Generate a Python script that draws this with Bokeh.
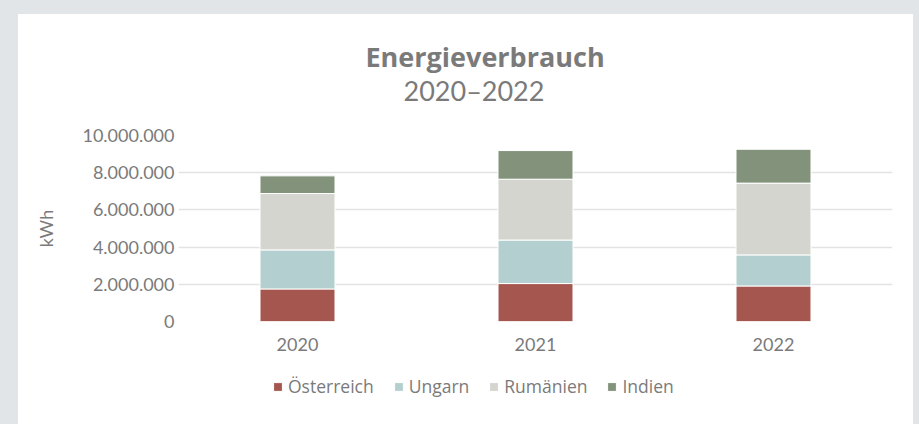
from bokeh.plotting import figure
from bokeh.models import Title, Legend, FactorRange, Range1d, FixedTicker
from bokeh.layouts import column
from bokeh.embed import file_html
from bokeh.resources import INLINE

years = ["2020", "2021", "2022"]
series = ["Österreich", "Ungarn", "Rumänien", "Indien"]
oesterreich = [1750000, 2040000, 1910000]
ungarn = [2100000, 2340000, 1670000]
rumaenien = [3030000, 3270000, 3860000]
indien = [950000, 1540000, 1820000]
colors = ["#a5574f", "#b4cfcf", "#d5d5cf", "#82927b"]
y_ticks = [0, 2000000, 4000000, 6000000, 8000000, 10000000]
y_tick_labels = ["0", "2.000.000", "4.000.000", "6.000.000", "8.000.000", "10.000.000"]

TXT = "#7a7a7a"
FONT = "Lato"

data = {"year": years, "Österreich": oesterreich, "Ungarn": ungarn,
        "Rumänien": rumaenien, "Indien": indien}

p = figure(x_range=FactorRange(*years, range_padding=0), y_range=Range1d(0, 10000000),
           width=895, height=360, output_backend="svg", toolbar_location=None,
           min_border_left=160, min_border_right=21, min_border_top=121,
           min_border_bottom=53)
p.outline_line_color = None
p.background_fill_color = "white"
p.border_fill_color = "white"

renderers = p.vbar_stack(series, x="year", width=0.315, source=data, color=colors,
                         line_color="white", line_width=1)

sub = Title(text="2020–2022", align="left", offset=225, text_font=FONT,
            text_font_size="27px", text_font_style="normal", text_color=TXT,
            standoff=58, text_line_height=0.8)
p.add_layout(sub, "above")
tit = Title(text="Energieverbrauch", align="left", offset=187, text_font="Open Sans",
            text_font_size="27px", text_font_style="bold", text_color=TXT, standoff=-64,
            text_line_height=0.8)
p.add_layout(tit, "above")

p.xgrid.grid_line_color = None
p.ygrid.grid_line_color = "#e3e3e3"
p.ygrid.grid_line_width = 1.5
p.yaxis.ticker = FixedTicker(ticks=y_ticks)
p.yaxis.major_label_overrides = {t: l for t, l in zip(y_ticks, y_tick_labels)}
for ax in (p.xaxis[0], p.yaxis[0]):
    ax.axis_line_color = None
    ax.major_tick_line_color = None
    ax.minor_tick_line_color = None
    ax.major_tick_out = 0
    ax.major_tick_in = 0
    ax.major_label_text_color = TXT
    ax.major_label_text_font = FONT
    ax.major_label_text_font_size = "18px"
ax = p.yaxis[0]
ax.major_label_standoff = 4
ax.axis_label = "kWh"
ax.axis_label_text_font = FONT
ax.axis_label_text_font_size = "18px"
ax.axis_label_text_font_style = "normal"
ax.axis_label_text_color = TXT
ax.axis_label_standoff = 22
p.xaxis[0].major_label_standoff = 16

# legend strip below the chart (its own dummy glyphs are hidden)
q = figure(x_range=FactorRange(*years), y_range=Range1d(-2, -1),
           width=895, height=50, output_backend="svg", toolbar_location=None,
           min_border=0)
q.axis.visible = False
q.grid.visible = False
q.outline_line_color = None
q.border_fill_color = "white"
lr = q.vbar_stack(series, x="year", width=0.315, source=data, color=colors,
                  line_color="white", line_width=1)
for r in lr:
    r.visible = False
legend = Legend(items=[(s, [r]) for s, r in zip(series, lr)],
                location=(94, 26), orientation="horizontal",
                label_text_font="Open Sans", label_text_font_size="17.5px",
                label_text_color=TXT, glyph_width=11, glyph_height=11,
                label_standoff=5, spacing=19, padding=0, margin=0,
                border_line_color=None, background_fill_alpha=0)
q.add_layout(legend, "center")

layout = column(p, q, spacing=0, styles={"background-color": "white"})
html = file_html(layout, INLINE)
html = html.replace("</head>", "<style>html,body{background:#e1e5e8 !important;margin:0 !important;overflow:hidden !important;}body{padding:14px 0 0 18px !important;}</style></head>", 1)
open("out.html", "w").write(html)
